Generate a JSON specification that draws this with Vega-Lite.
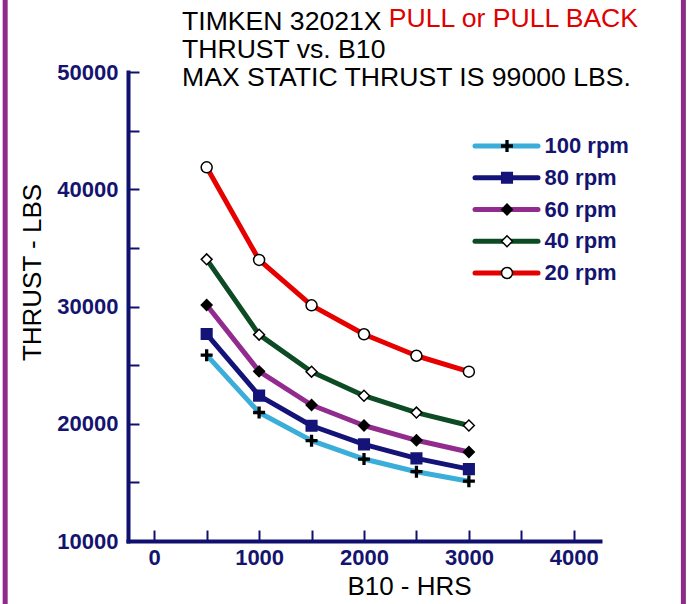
{
  "$schema": "https://vega.github.io/schema/vega-lite/v6.json",
  "width": 472,
  "height": 469,
  "autosize": {"type": "none"},
  "padding": {"left": 128, "top": 72, "right": 93, "bottom": 63},
  "background": "white",
  "config": {"view": {"stroke": null}, "font": "Liberation Sans"},
  "title": {
    "text": ["TIMKEN 32021X", "THRUST vs. B10", "MAX STATIC THRUST IS 99000 LBS."],
    "anchor": "start",
    "frame": "group",
    "font": "Liberation Sans",
    "fontSize": 26.6,
    "fontWeight": "normal",
    "color": "black",
    "lineHeight": 28,
    "dx": 54,
    "dy": 104,
    "offset": 0
  },
  "datasets": {
    "curves": [
      {"rpm": "100 rpm", "hrs": 500, "thrust": 25850},
      {"rpm": "100 rpm", "hrs": 1000, "thrust": 20960},
      {"rpm": "100 rpm", "hrs": 1500, "thrust": 18560},
      {"rpm": "100 rpm", "hrs": 2000, "thrust": 16990},
      {"rpm": "100 rpm", "hrs": 2500, "thrust": 15910},
      {"rpm": "100 rpm", "hrs": 3000, "thrust": 15100},
      {"rpm": "80 rpm", "hrs": 500, "thrust": 27650},
      {"rpm": "80 rpm", "hrs": 1000, "thrust": 22400},
      {"rpm": "80 rpm", "hrs": 1500, "thrust": 19830},
      {"rpm": "80 rpm", "hrs": 2000, "thrust": 18240},
      {"rpm": "80 rpm", "hrs": 2500, "thrust": 17050},
      {"rpm": "80 rpm", "hrs": 3000, "thrust": 16130},
      {"rpm": "60 rpm", "hrs": 500, "thrust": 30130},
      {"rpm": "60 rpm", "hrs": 1000, "thrust": 24470},
      {"rpm": "60 rpm", "hrs": 1500, "thrust": 21600},
      {"rpm": "60 rpm", "hrs": 2000, "thrust": 19850},
      {"rpm": "60 rpm", "hrs": 2500, "thrust": 18590},
      {"rpm": "60 rpm", "hrs": 3000, "thrust": 17590},
      {"rpm": "40 rpm", "hrs": 500, "thrust": 34020},
      {"rpm": "40 rpm", "hrs": 1000, "thrust": 27600},
      {"rpm": "40 rpm", "hrs": 1500, "thrust": 24440},
      {"rpm": "40 rpm", "hrs": 2000, "thrust": 22390},
      {"rpm": "40 rpm", "hrs": 2500, "thrust": 20950},
      {"rpm": "40 rpm", "hrs": 3000, "thrust": 19850},
      {"rpm": "20 rpm", "hrs": 500, "thrust": 41870},
      {"rpm": "20 rpm", "hrs": 1000, "thrust": 33970},
      {"rpm": "20 rpm", "hrs": 1500, "thrust": 30100},
      {"rpm": "20 rpm", "hrs": 2000, "thrust": 27630},
      {"rpm": "20 rpm", "hrs": 2500, "thrust": 25800},
      {"rpm": "20 rpm", "hrs": 3000, "thrust": 24440}
    ],
    "note": [{"label": "PULL or PULL BACK"}],
    "frame": [{"side": "left"}]
  },
  "layer": [
    {
      "data": {"name": "curves"},
      "mark": {"type": "line", "strokeWidth": 5, "strokeJoin": "round"},
      "encoding": {
        "x": {
          "field": "hrs",
          "type": "quantitative",
          "scale": {"domain": [-250, 4250], "nice": false, "zero": false},
          "axis": {
            "values": [0, 500, 1000, 1500, 2000, 2500, 3000, 3500, 4000],
            "format": "d",
            "labelExpr": "datum.value % 1000 === 0 ? datum.label : ''",
            "grid": false,
            "domainColor": "#10106E",
            "domainWidth": 4,
            "domainCap": "square",
            "tickColor": "#10106E",
            "tickWidth": 2,
            "tickSize": -11,
            "labelPadding": 17,
            "labelFont": "Liberation Sans",
            "labelFontSize": 22,
            "labelFontWeight": "bold",
            "labelColor": "#141470",
            "labelFlush": false,
            "labelOverlap": false,
            "title": "B10 - HRS",
            "titleFont": "Liberation Sans",
            "titleFontSize": 26,
            "titleFontWeight": "normal",
            "titleColor": "black",
            "titleX": 281,
            "titleY": 53,
            "titleBaseline": "alphabetic",
            "titleAlign": "center"
          }
        },
        "y": {
          "field": "thrust",
          "type": "quantitative",
          "scale": {"domain": [10000, 50000], "nice": false, "zero": false},
          "axis": {
            "values": [10000, 15000, 20000, 25000, 30000, 35000, 40000, 45000, 50000],
            "format": "d",
            "labelExpr": "datum.value % 10000 === 0 ? datum.label : ''",
            "grid": false,
            "domainColor": "#10106E",
            "domainWidth": 4,
            "domainCap": "square",
            "tickColor": "#10106E",
            "tickWidth": 2,
            "tickSize": -11,
            "labelPadding": 21,
            "labelFont": "Liberation Sans",
            "labelFontSize": 22,
            "labelFontWeight": "bold",
            "labelColor": "#141470",
            "labelFlush": false,
            "labelOverlap": false,
            "title": "THRUST - LBS",
            "titleFont": "Liberation Sans",
            "titleFontSize": 26,
            "titleFontWeight": "normal",
            "titleColor": "black",
            "titleAngle": 270,
            "titleX": -88,
            "titleY": 200,
            "titleBaseline": "alphabetic",
            "titleAlign": "center"
          }
        },
        "color": {
          "field": "rpm",
          "type": "nominal",
          "sort": ["100 rpm", "80 rpm", "60 rpm", "40 rpm", "20 rpm"],
          "scale": {
            "range": ["#3AAED8", "#141478", "#912B8E", "#0C4B24", "#E60000"]
          },
          "legend": {
            "orient": "none",
            "legendX": 347,
            "legendY": 63,
            "title": null,
            "padding": 0,
            "rowPadding": 9.75,
            "symbolType": "M-5.25,0H5.25",
            "symbolSize": 144,
            "symbolStrokeWidth": 5,
            "symbolOffset": 20.5,
            "labelOffset": 27,
            "labelFont": "Liberation Sans",
            "labelFontSize": 22,
            "labelFontWeight": "bold",
            "labelColor": "#141470",
            "encode": {"symbols": {"update": {"strokeCap": {"value": "round"}}}}
          }
        }
      }
    },
    {
      "data": {"name": "curves"},
      "mark": {"type": "point", "filled": true, "strokeWidth": 1.5, "opacity": 1},
      "encoding": {
        "x": {"field": "hrs", "type": "quantitative"},
        "y": {"field": "thrust", "type": "quantitative"},
        "shape": {
          "field": "rpm",
          "type": "nominal",
          "scale": {
            "domain": ["100 rpm", "80 rpm", "60 rpm", "40 rpm", "20 rpm"],
            "range": ["M-1,-0.17H1V0.17H-1Z M-0.17,-1H0.17V1H-0.17Z", "square", "diamond", "diamond", "circle"]
          },
          "legend": {
            "orient": "none",
            "legendX": 347,
            "legendY": 63,
            "title": null,
            "padding": 0,
            "rowPadding": 9.75,
            "symbolOffset": 21,
            "symbolStrokeWidth": 1.5,
            "labelOffset": 27,
            "labelFont": "Liberation Sans",
            "labelFontSize": 22,
            "labelFontWeight": "bold",
            "labelOpacity": 0
          }
        },
        "fill": {
          "field": "rpm",
          "type": "nominal",
          "scale": {
            "domain": ["100 rpm", "80 rpm", "60 rpm", "40 rpm", "20 rpm"],
            "range": ["black", "#141478", "black", "white", "white"]
          }
        },
        "stroke": {
          "field": "rpm",
          "type": "nominal",
          "scale": {
            "domain": ["100 rpm", "80 rpm", "60 rpm", "40 rpm", "20 rpm"],
            "range": ["black", "#141478", "black", "black", "black"]
          }
        },
        "size": {
          "field": "rpm",
          "type": "nominal",
          "scale": {
            "domain": ["100 rpm", "80 rpm", "60 rpm", "40 rpm", "20 rpm"],
            "range": [110, 121, 72, 72, 100]
          }
        }
      }
    },
    {
      "data": {"name": "note"},
      "mark": {"type": "text", "clip": false, "color": "#E00000", "font": "Liberation Sans", "fontSize": 26.6, "align": "left", "baseline": "alphabetic"},
      "encoding": {
        "text": {"field": "label", "type": "nominal"},
        "x": {"datum": 2236},
        "y": {"datum": 53838}
      }
    },
    {
      "data": {"name": "frame"},
      "mark": {"type": "rule", "clip": false, "color": "#8E2A8C", "strokeWidth": 5},
      "encoding": {
        "x": {"datum": -1421},
        "y": {"datum": 57000},
        "y2": {"datum": 4000}
      }
    },
    {
      "data": {"name": "frame"},
      "mark": {"type": "rule", "clip": false, "color": "#8E2A8C", "strokeWidth": 5},
      "encoding": {
        "x": {"datum": 5045},
        "y": {"datum": 57000},
        "y2": {"datum": 4000}
      }
    }
  ]
}
